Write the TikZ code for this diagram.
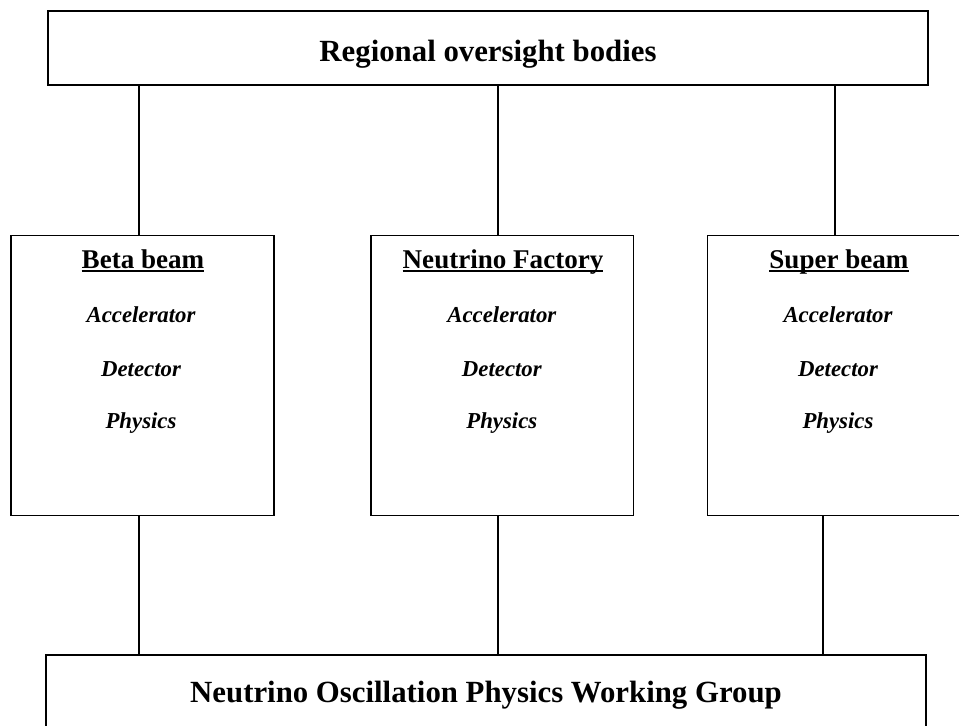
\documentclass[tikz,border=0pt]{standalone}
\usepackage{fontspec}
\setmainfont{Liberation Serif}
\usetikzlibrary{calc}
\begin{document}
\begin{tikzpicture}[x=0.75pt,y=-0.75pt,
  box/.style={draw, line width=0.9pt, inner sep=0pt, outer sep=0pt, anchor=north west},
  link/.style={line width=0.8pt},
  bigtxt/.style={inner sep=0pt, outer sep=0pt, anchor=base, font=\fontsize{23.1pt}{28pt}\selectfont\bfseries},
  headtxt/.style={inner sep=0pt, outer sep=0pt, anchor=base, font=\fontsize{20.3pt}{24pt}\selectfont\bfseries},
  itemtxt/.style={inner sep=0pt, outer sep=0pt, anchor=base, font=\fontsize{17.1pt}{20pt}\selectfont\bfseries\itshape},
  uline/.style={line width=1.4pt}]
\useasboundingbox (0,0) rectangle (959,725);

% boxes
\node[box, minimum width=660pt, minimum height=55.5pt] (top) at (48,11) {};
\node[box, minimum width=197.25pt, minimum height=210.3pt] (bb) at (11,235.3) {};
\node[box, minimum width=197pt, minimum height=210.3pt] (nf) at (371,235.3) {};
\node[box, minimum width=197.5pt, minimum height=210.3pt] (sb) at (707.3,235.3) {};
\node[box, minimum width=660pt, minimum height=75pt] (bot) at (46,655) {};

% titles
\node[bigtxt] (toptxt) at ($(top.north)+(0,50)$) {Regional oversight bodies};
\node[bigtxt] (bottxt) at ($(bot.north)+(0,47)$) {Neutrino Oscillation Physics Working Group};

% column headings
\node[headtxt] (bbh) at ($(bb.north)+(0.5,32.7)$) {Beta beam};
\node[headtxt] (nfh) at ($(nf.north)+(0.7,32.7)$) {Neutrino Factory};
\node[headtxt] (sbh) at ($(sb.north)+(0,32.7)$) {Super beam};
\foreach \h in {bbh,nfh,sbh}{
  \draw[uline] ($(\h.base west)+(0,2.7)$) -- ($(\h.base east)+(0,2.7)$);
}

% items
\foreach \b/\dx in {bb/-1.5,nf/-0.5,sb/-1}{
  \node[itemtxt] (\b a) at ($(\b.north)+(\dx,87.4)$) {Accelerator};
  \node[itemtxt] (\b d) at ($(\b.north)+(\dx,140.7)$) {Detector};
  \node[itemtxt] (\b p) at ($(\b.north)+(\dx,192.7)$) {Physics};
}

% connector positions
\coordinate (x1) at (139,0);
\coordinate (x2) at (498,0);
\coordinate (x3) at (835,0);
\coordinate (x4) at (823,0);

\draw[link] (top.south -| x1) -- (bb.north -| x1);
\draw[link] (top.south -| x2) -- (nf.north -| x2);
\draw[link] (top.south -| x3) -- (sb.north -| x3);
\draw[link] (bb.south -| x1) -- (bot.north -| x1);
\draw[link] (nf.south -| x2) -- (bot.north -| x2);
\draw[link] (sb.south -| x4) -- (bot.north -| x4);
\end{tikzpicture}
\end{document}
